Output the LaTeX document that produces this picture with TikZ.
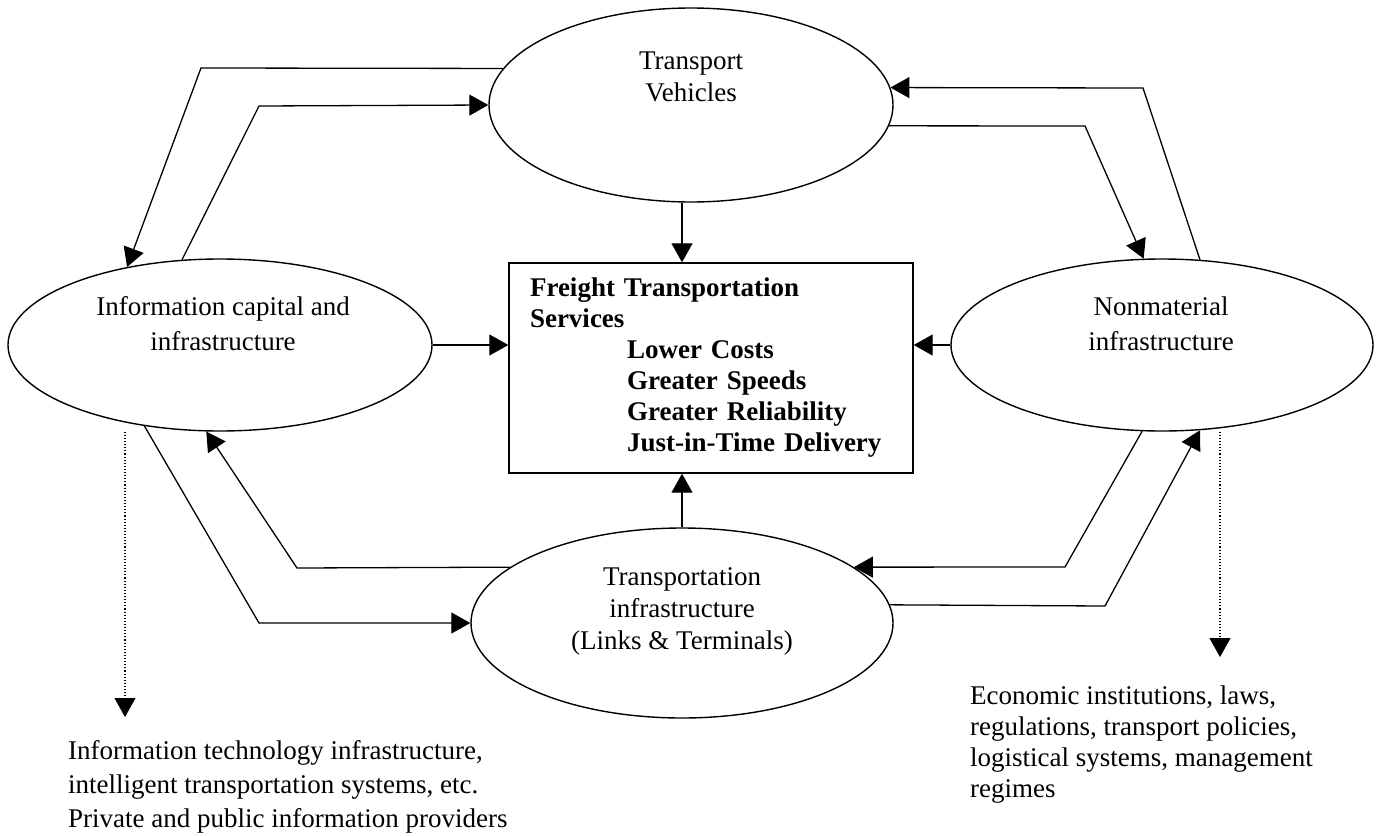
\documentclass[tikz,border=0pt]{standalone}
\usepackage{fontspec}
\setmainfont{Liberation Serif}
\usetikzlibrary{arrows.meta,shapes.geometric}

\begin{document}
\begin{tikzpicture}[x=1pt,y=-1pt,
        oval/.style={draw,ellipse,line width=1.4pt,inner sep=0pt},
        txt/.style={align=center,inner sep=0pt,font=\fontsize{27}{32}\selectfont},
        note/.style={align=left,inner sep=0pt,anchor=north west},
        arrow/.style={-{Triangle[length=19pt,width=21pt]},line width=1.3pt},
        dotarrow/.style={-{Triangle[length=19pt,width=21pt]},line width=1.1pt,dotted}
      ]
        \useasboundingbox (0,0) rectangle (1380,835);
        \node[oval,minimum width=404pt,minimum height=194pt] (veh) at (691,105) {};
        \node[oval,minimum width=424pt,minimum height=172pt] (info) at (220,345) {};
        \node[oval,minimum width=422pt,minimum height=172pt] (nonmat) at (1162,345) {};
        \node[oval,minimum width=422pt,minimum height=190pt] (trans) at (682,623) {};
        \node[txt] (vehtxt) at (691,77) {Transport\\Vehicles};
        \node[txt,font=\fontsize{27}{35}\selectfont] (infotxt) at (223,324) {Information capital and\\infrastructure};
        \node[txt,font=\fontsize{27}{35}\selectfont] (nonmattxt) at (1161,324) {Nonmaterial\\infrastructure};
        \node[txt] (transtxt) at (682,611) {Transportation\\infrastructure\\(Links \& Terminals)};
        \node[draw,line width=1.4pt,minimum width=404pt,minimum height=210pt,inner xsep=21pt,
              text width=362pt,align=left,font=\fontsize{27}{31}\selectfont\bfseries] (box) at (711,368)
              {Freight Transportation\\Services\\
               \hspace*{97pt}Lower Costs\\
               \hspace*{97pt}Greater Speeds\\
               \hspace*{97pt}Greater Reliability\\
               \hspace*{97pt}Just-in-Time Delivery};
        \node[note,font=\fontsize{27}{34}\selectfont] (itnote) at (68,740)
              {Information technology infrastructure,\\intelligent transportation systems, etc.\\Private and public information providers};
        \node[note,font=\fontsize{27}{31}\selectfont] (econote) at (970,686)
              {Economic institutions, laws,\\regulations, transport policies,\\logistical systems, management\\regimes};
        \coordinate (itend) at (125,717);
        \coordinate (ecoend) at (1220,657);
        % into the box
        \draw[arrow] (veh.south -| trans.north) -- (box.north -| trans.north);
        \draw[arrow] (info.east) -- (info.east -| box.west);
        \draw[arrow] (nonmat.west) -- (nonmat.west -| box.east);
        \draw[arrow] (trans.north) -- (trans.north |- box.south);
        % vehicles <-> information
        \draw[arrow] (veh.169) -- (201,68) -- (info.140);
        \draw[arrow] (info.114) -- (259,106) -- (veh.west);
        % vehicles <-> nonmaterial
        \draw[arrow] (nonmat.66) -- (1143,88) -- (veh.5);
        \draw[arrow] (veh.-6) -- (1085,126) -- (nonmat.102);
        % transportation infrastructure <-> information
        \draw[arrow] (trans.162) -- (297,568) -- (info.261);
        \draw[arrow] (info.227) -- (259,623) -- (trans.west);
        % transportation infrastructure <-> nonmaterial
        \draw[arrow] (nonmat.257) -- (1065,567) -- (trans.18);
        \draw[arrow] (trans.5) -- (1105,606) -- (nonmat.-66);
        % notes
        \draw[dotarrow] (info.south -| itend) -- (itend);
        \draw[dotarrow] (nonmat.south -| ecoend) -- (ecoend);
      \end{tikzpicture}
\end{document}
